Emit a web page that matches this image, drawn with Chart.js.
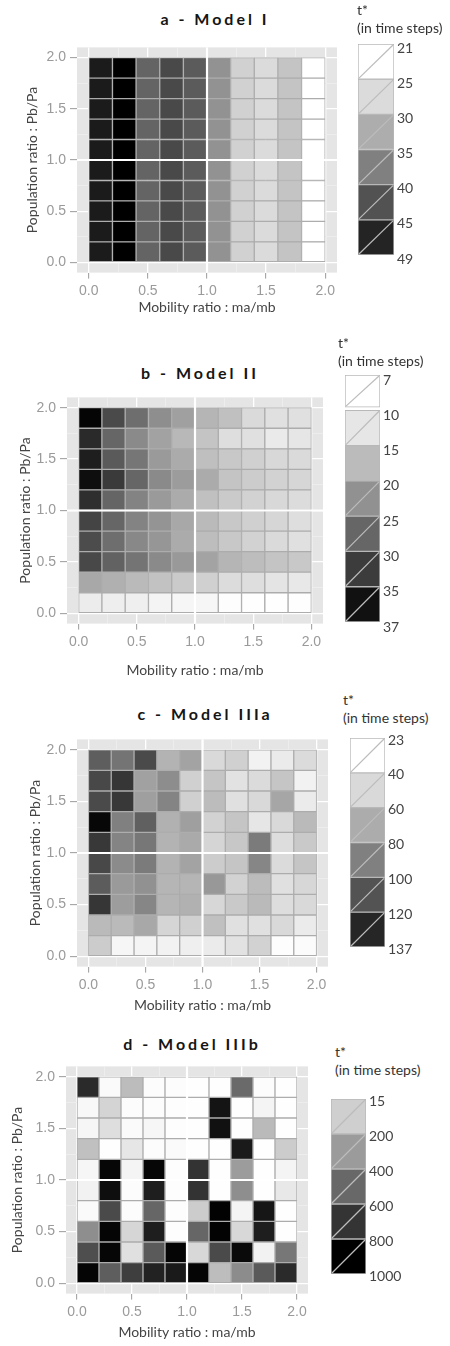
<!DOCTYPE html>
<html lang="en">
<head>
<meta charset="UTF-8">
<title>t* by mobility and population ratio</title>
<script src="https://cdn.jsdelivr.net/npm/chart.js"></script>
<style>
  body { margin: 0; width: 450px; height: 1346px; position: relative; overflow: hidden; background: #fff; font-family: Lato, sans-serif; }
  canvas { position: absolute; }
  .title { position: absolute; transform: translate(-50%, -50%); white-space: nowrap; font-weight: bold; font-size: 16px; letter-spacing: 3px; color: #151515; }
  .head { position: absolute; white-space: nowrap; font-size: 14px; line-height: 17.5px; color: #333; }
</style>
</head>
<body>
<script>
// tile centres: mobility ratio ma/mb (x) and population ratio Pb/Pa (y, top row first)
const mobility = [0.1, 0.3, 0.5, 0.7, 0.9, 1.1, 1.3, 1.5, 1.7, 1.9];
const population = [1.9, 1.7, 1.5, 1.3, 1.1, 0.9, 0.7, 0.5, 0.3, 0.1];
const tileSize = 0.2;
const majorTicks = [0, 0.5, 1, 1.5, 2];
const minorTicks = [0.25, 0.75, 1.25, 1.75];

// t* in time steps, one row per population ratio (top row first)
const modelI = [
  [46, 49, 38, 41, 39, 33, 26, 25, 27.5, 21],
  [46, 49, 38, 41, 39, 33, 26, 25, 27.5, 21],
  [46, 49, 38, 41, 39, 33, 26, 25, 27.5, 21],
  [46, 49, 38, 41, 39, 33, 26, 25, 27.5, 21],
  [46, 49, 38, 41, 39, 33, 26, 25, 27.5, 21],
  [46, 49, 38, 41, 39, 33, 26, 25, 27.5, 21],
  [46, 49, 38, 41, 39, 33, 26, 25, 27.5, 21],
  [46, 49, 38, 41, 39, 33, 26, 25, 27.5, 21],
  [46, 49, 38, 41, 39, 33, 26, 25, 27.5, 21],
  [46, 49, 38, 41, 39, 33, 26, 25, 27.5, 21]
];
const modelII = [
  [36.4, 28.3, 24.1, 20.3, 18.2, 15.7, 14.4, 11.4, 10.6, 10.6],
  [32.1, 25.0, 20.8, 17.9, 15.4, 13.9, 10.9, 10.6, 9.5, 9.9],
  [33.5, 26.4, 23.1, 18.9, 16.9, 14.5, 13.5, 12.5, 11.6, 11.4],
  [35.4, 30.2, 25.0, 20.8, 18.6, 16.9, 13.9, 13.0, 12.3, 11.8],
  [31.6, 25.1, 21.6, 18.9, 16.9, 14.4, 13.2, 12.3, 11.6, 11.1],
  [29.0, 25.0, 21.6, 19.6, 17.2, 15.1, 13.5, 12.5, 11.8, 10.9],
  [28.1, 24.1, 21.0, 19.4, 16.9, 14.8, 13.5, 12.3, 11.4, 10.6],
  [28.5, 25.5, 23.4, 20.8, 19.0, 17.8, 15.7, 14.8, 13.9, 13.5],
  [17.2, 16.3, 15.1, 14.2, 13.2, 12.5, 11.1, 10.9, 10.2, 9.7],
  [9.2, 9.0, 8.9, 8.3, 8.1, 8.1, 7.2, 7.1, 7.1, 7.1]
];
const modelIIIa = [
  [95, 85, 104, 57, 64, 40, 44, 29, 32, 39],
  [105, 113, 65, 74, 44, 49, 36, 39, 49, 29],
  [104, 112, 66, 78, 44, 53, 37, 40, 63, 32],
  [134, 80, 94, 58, 66, 43, 49, 34, 40, 54],
  [112, 78, 84, 57, 61, 42, 48, 82, 38, 47],
  [105, 75, 82, 57, 64, 46, 49, 77, 39, 49],
  [96, 68, 72, 56, 56, 69, 43, 53, 37, 41],
  [113, 67, 77, 56, 58, 41, 47, 54, 38, 40],
  [54, 54, 62, 42, 44, 51, 37, 37, 40, 32],
  [46, 27, 28, 29, 30, 32, 36, 43, 24, 25]
];
const modelIIIb = [
  [838, 34, 274, 27, 27, 19, 19, 591, 27, 19],
  [42, 181, 27, 27, 23, 19, 923, 19, 57, 19],
  [50, 142, 34, 50, 23, 19, 934, 19, 282, 19],
  [258, 19, 112, 27, 34, 19, 19, 900, 19, 212],
  [50, 977, 57, 977, 23, 803, 19, 397, 19, 57],
  [65, 946, 27, 884, 23, 803, 19, 452, 19, 104],
  [34, 714, 27, 606, 23, 212, 992, 57, 915, 19],
  [452, 981, 173, 884, 23, 606, 988, 166, 884, 19],
  [699, 977, 135, 652, 981, 166, 714, 961, 65, 540],
  [981, 637, 761, 869, 900, 981, 270, 459, 652, 838]
];

// legend breaks (top to bottom)
const legendI = [21, 25, 30, 35, 40, 45, 49];
const legendII = [7, 10, 15, 20, 25, 30, 35, 37];
const legendIIIa = [23, 40, 60, 80, 100, 120, 137];
const legendIIIb = [15, 200, 400, 600, 800, 1000];

const panels = [
  { title: 'a - Model I', values: modelI, legend: legendI, keyEdge: 0,
    area: { left: 77, top: 41, right: 337, bottom: 273 }, titleX: 215, titleY: 18, yTitleX: 32, xTitleY: 308,
    key: { left: 358, top: 44, right: 394, bottom: 255, shift: 4, gap: 0, headX: 357, headY: 10 } },
  { title: 'b - Model II', values: modelII, legend: legendII, keyEdge: 0,
    area: { left: 67, top: 391, right: 323, bottom: 624 }, titleX: 200, titleY: 372, yTitleX: 25, xTitleY: 671,
    key: { left: 345, top: 375, right: 380, bottom: 622, shift: 5, gap: 0.09, headX: 338, headY: 343 } },
  { title: 'c - Model IIIa', values: modelIIIa, legend: legendIIIa, keyEdge: 0,
    area: { left: 77, top: 733, right: 328, bottom: 967 }, titleX: 205, titleY: 713, yTitleX: 35, xTitleY: 1006,
    key: { left: 350, top: 738, right: 385, bottom: 947, shift: 2, gap: 0, headX: 343, headY: 700 } },
  { title: 'd - Model IIIb', values: modelIIIb, legend: legendIIIb, keyEdge: 1,
    area: { left: 66, top: 1060, right: 308, bottom: 1294 }, titleX: 192, titleY: 1043, yTitleX: 17, xTitleY: 1333,
    key: { left: 331, top: 1099, right: 366, bottom: 1274, shift: 2, gap: 0, headX: 335, headY: 1052 } }
];

function grey(v, lo, hi) {
  const t = Math.min(1, Math.max(0, (hi - v) / (hi - lo)));
  const g = Math.round(255 * t);
  return 'rgb(' + g + ',' + g + ',' + g + ')';
}

// grey panel behind the tiles
const panelBackground = {
  id: 'panelBackground',
  beforeDraw(chart) {
    const { ctx, chartArea: a } = chart;
    ctx.save();
    ctx.fillStyle = '#e5e5e5';
    ctx.fillRect(a.left, a.top, a.right - a.left, a.bottom - a.top);
    ctx.restore();
  }
};

// white major grid line at 1.0 runs over the tiles
const splitLines = {
  id: 'splitLines',
  afterDatasetsDraw(chart) {
    const { ctx, chartArea: a, scales: { x, y } } = chart;
    const px = x.getPixelForValue(1), py = y.getPixelForValue(1);
    ctx.save();
    ctx.strokeStyle = '#ffffff';
    ctx.lineWidth = 2.2;
    ctx.beginPath();
    ctx.moveTo(px, a.top); ctx.lineTo(px, a.bottom);
    ctx.moveTo(a.left, py); ctx.lineTo(a.right, py);
    ctx.stroke();
    ctx.restore();
  }
};

// diagonal stroke inside each legend key
const keyDiagonals = {
  id: 'keyDiagonals',
  afterDatasetsDraw(chart) {
    const ctx = chart.ctx;
    ctx.save();
    ctx.strokeStyle = '#bcbcbc';
    ctx.lineWidth = 1.2;
    chart.data.datasets.forEach((d, i) => {
      chart.getDatasetMeta(i).data.forEach(bar => {
        const { x, y, base, width } = bar.getProps(['x', 'y', 'base', 'width'], true);
        const top = Math.min(y, base), bottom = Math.max(y, base);
        ctx.beginPath();
        ctx.moveTo(x - width / 2 + 1, bottom - 1);
        ctx.lineTo(x + width / 2 - 1, top + 1);
        ctx.stroke();
      });
    });
    ctx.restore();
  }
};

const gridValues = majorTicks.concat(minorTicks).sort((a, b) => a - b);
const isMajor = v => majorTicks.includes(v);
const majorAt = c => !!(c.tick && isMajor(c.tick.value));
const tickFont = { family: 'Liberation Sans', size: 14 };
const titleFont = { family: 'Lato', size: 14 };

function axisOptions(tickLength, afterFit, titleText, titlePadding) {
  return {
    type: 'linear', min: -0.1, max: 2.1, offset: false,
    afterBuildTicks: s => { s.ticks = gridValues.map(v => ({ value: v })); },
    afterFit: afterFit,
    ticks: { autoSkip: false, maxRotation: 0, padding: 4, color: '#9a9a9a', font: tickFont,
             callback: v => isMajor(v) ? v.toFixed(1) : '' },
    grid: { offset: false,
            color: c => majorAt(c) ? '#ffffff' : '#f1f1f1',
            lineWidth: c => majorAt(c) ? 1.3 : 0.7,
            tickColor: c => majorAt(c) ? '#9a9a9a' : 'rgba(0,0,0,0)',
            tickLength: tickLength, tickWidth: 1 },
    border: { display: false },
    title: { display: true, text: titleText, color: '#444', font: titleFont, padding: titlePadding }
  };
}

function drawPanel(p) {
  const a = p.area;
  const padTop = 6, padRight = 4;
  const lh = titleFont.size * 1.2;
  const xAxisH = p.xTitleY - a.bottom + lh / 2;
  const cv = document.createElement('canvas');
  cv.width = a.right + padRight;
  cv.height = padTop + (a.bottom - a.top) + xAxisH;
  cv.style.left = '0px';
  cv.style.top = (a.top - padTop) + 'px';
  document.body.appendChild(cv);

  const lo = p.legend[0], hi = p.legend[p.legend.length - 1];
  const cells = [], colours = [];
  p.values.forEach((row, r) => row.forEach((v, c) => {
    cells.push({ x: mobility[c], y: [population[r] - tileSize / 2, population[r] + tileSize / 2] });
    colours.push(grey(v, lo, hi));
  }));

  new Chart(cv, {
    type: 'bar',
    data: { datasets: [{ data: cells, backgroundColor: colours, borderColor: '#adadad', borderWidth: 1,
                         borderSkipped: false, barPercentage: 1, categoryPercentage: 1 }] },
    options: {
      responsive: false, animation: false, events: [],
      layout: { padding: { top: padTop, right: padRight, left: 0, bottom: 0 } },
      plugins: { legend: { display: false }, tooltip: { enabled: false } },
      scales: {
        x: axisOptions(6, s => { s.height = xAxisH; }, 'Mobility ratio : ma/mb', { top: 0, bottom: 0 }),
        y: axisOptions(7, s => { s.width = a.left; }, 'Population ratio : Pb/Pa', { top: p.yTitleX - lh / 2, bottom: 0 })
      }
    },
    plugins: [panelBackground, splitLines]
  });

  const t = document.createElement('div');
  t.className = 'title';
  t.textContent = p.title;
  t.style.left = p.titleX + 'px';
  t.style.top = p.titleY + 'px';
  document.body.appendChild(t);
}

function drawKey(p) {
  const k = p.key;
  const padV = 12, labelW = 48;
  const boxW = k.right - k.left;
  const cv = document.createElement('canvas');
  cv.width = boxW + labelW;
  cv.height = k.bottom - k.top + 2 * padV;
  cv.style.left = k.left + 'px';
  cv.style.top = (k.top - padV) + 'px';
  document.body.appendChild(cv);

  const n = p.legend.length - 1;
  const lo = p.legend[0], hi = p.legend[n];
  const datasets = [];
  for (let i = 0; i < n; i++) {
    const end = (i === 0 && k.gap) ? 1 - k.gap : i + 1;
    datasets.push({ data: [[i, end]], backgroundColor: grey(p.legend[i + p.keyEdge], lo, hi),
                    borderColor: '#b8b8b8', borderWidth: 1, borderSkipped: false, grouped: false,
                    barPercentage: 1, categoryPercentage: 1 });
  }

  new Chart(cv, {
    type: 'bar',
    data: { labels: [''], datasets },
    options: {
      responsive: false, animation: false, events: [],
      layout: { padding: { top: padV, bottom: padV, left: 0, right: 0 } },
      plugins: { legend: { display: false }, tooltip: { enabled: false } },
      scales: {
        x: { display: false },
        y: { position: 'right', reverse: true, min: 0, max: n,
             afterBuildTicks: s => { s.ticks = p.legend.map((v, i) => ({ value: i })); },
             afterFit: s => { s.width = labelW; },
             grid: { display: false, drawTicks: false, tickLength: 0 }, border: { display: false },
             ticks: { autoSkip: false, padding: 3, labelOffset: k.shift, color: '#444',
                      font: { family: 'Lato', size: 14 }, callback: (v, i) => String(p.legend[i]) } }
      }
    },
    plugins: [keyDiagonals]
  });

  const h = document.createElement('div');
  h.className = 'head';
  h.innerHTML = 't*<br>(in time steps)';
  h.style.left = k.headX + 'px';
  h.style.top = (k.headY - 8.75) + 'px';
  document.body.appendChild(h);
}

panels.forEach(p => { drawPanel(p); drawKey(p); });
</script>
</body>
</html>
